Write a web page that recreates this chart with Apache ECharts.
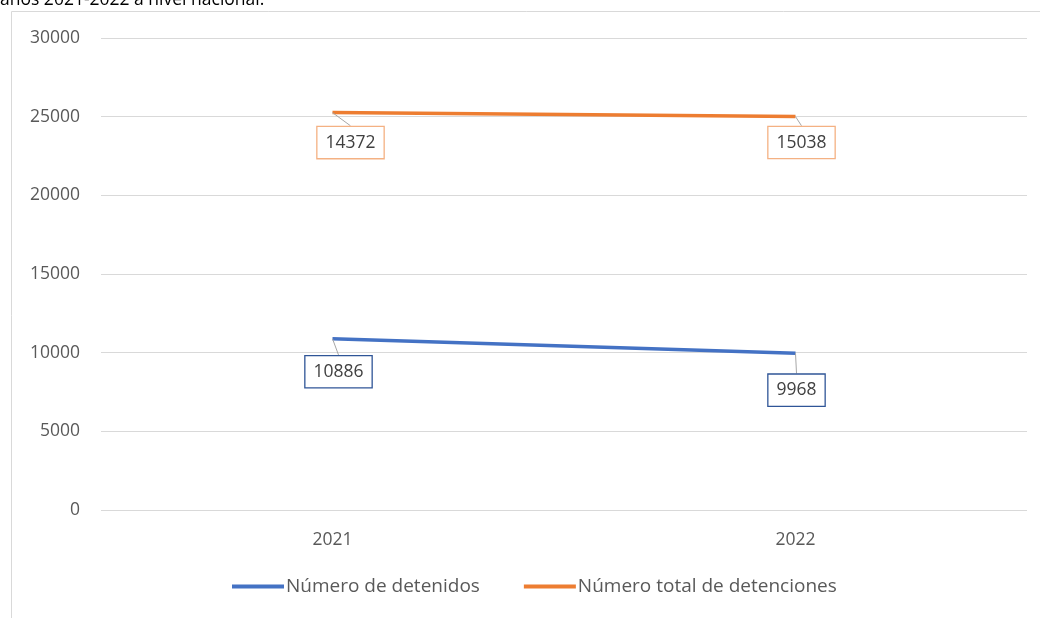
<!DOCTYPE html>
<html><head><meta charset="utf-8">
<script src="https://cdn.jsdelivr.net/npm/echarts@6/dist/echarts.min.js"></script>
<style>html,body{margin:0;padding:0;background:#fff}#c{width:1040px;height:618px}</style>
</head><body><div id="c"></div>
<script>
const categories = ['2021', '2022'];
const detenidos = [10886, 9968];
const totalDetenciones = [14372, 15038];
const seriesNames = ['Número de detenidos', 'Número total de detenciones'];
const yTicks = [0, 5000, 10000, 15000, 20000, 25000, 30000];

const FONT = '"Open Sans", "Noto Sans", sans-serif';
const labelShifts = [[[6, 33], [1, 37]], [[18, 30], [6, 26]]];

const chart = echarts.init(document.getElementById('c'), null, {renderer: 'canvas'});
function mkLabel(color) {
  return {
    show: true, position: 'inside', color: '#404040', fontFamily: FONT, fontSize: 17.5,
    backgroundColor: '#fff', borderColor: color, borderWidth: 1.3, padding: [7, 8, 6, 8]
  };
}
function mkSeries(i, data, color, border) {
  return {
    name: seriesNames[i], type: 'line', stack: 'total', data: data,
    symbol: 'circle', symbolSize: 0.1, showSymbol: true,
    lineStyle: {color: color, width: 3.5}, itemStyle: {color: color},
    label: mkLabel(border),
    labelLine: {show: true, lineStyle: {color: '#a6a6a6', width: 1}},
    labelLayout: p => ({dx: labelShifts[i][p.dataIndex][0], dy: labelShifts[i][p.dataIndex][1]})
  };
}
chart.setOption({
  animation: false,
  graphic: [
    {type: 'rect', shape: {x: 11.5, y: 11.5, width: 1100, height: 700}, style: {fill: 'none', stroke: '#d9d9d9', lineWidth: 1}, z: -1},
    {type: 'text', left: 0, top: -9, style: {text: 'años 2021-2022 a nivel nacional.', fill: '#000', font: '17.5px "Open Sans", "Noto Sans", sans-serif'}}
  ],
  grid: {left: 101, right: 13, top: 38, bottom: 108},
  legend: {
    bottom: 17, left: 227, itemWidth: 52, itemHeight: 4, itemGap: 44,
    icon: 'rect',
    textStyle: {color: '#595959', fontFamily: FONT, fontSize: 19, padding: [0, 0, 0, -3]},
    data: seriesNames
  },
  xAxis: {
    type: 'category', data: categories, boundaryGap: true,
    axisLine: {show: false}, axisTick: {show: false},
    axisLabel: {color: '#595959', fontFamily: FONT, fontSize: 17.5, margin: 21}
  },
  yAxis: {
    type: 'value', min: yTicks[0], max: yTicks[yTicks.length - 1], interval: 5000,
    axisLabel: {color: '#595959', fontFamily: FONT, fontSize: 17.5, margin: 21, formatter: v => String(v)},
    splitLine: {lineStyle: {color: '#d9d9d9', width: 1}},
    axisLine: {show: false}, axisTick: {show: false}
  },
  series: [
    mkSeries(0, detenidos, '#4472C4', '#2F5597'),
    mkSeries(1, totalDetenciones, '#ED7D31', '#F4B183')
  ]
});
</script></body></html>
